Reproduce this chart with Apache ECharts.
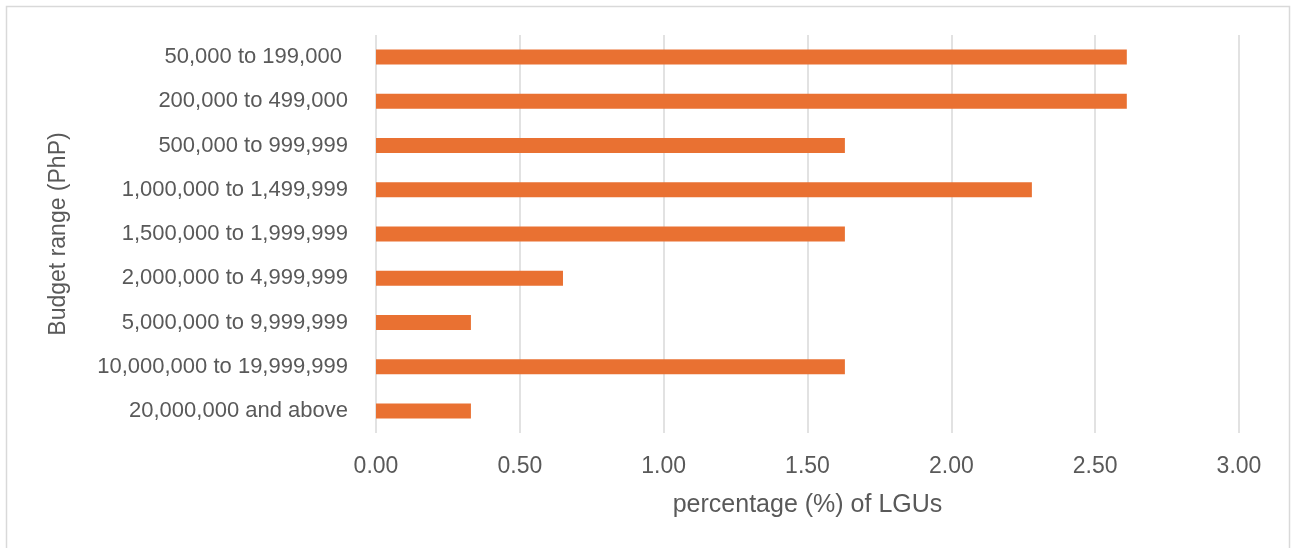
<!DOCTYPE html>
<html>
<head>
<meta charset="utf-8">
<script src="https://cdn.jsdelivr.net/npm/echarts@6/dist/echarts.min.js"></script>
<style>
html,body{margin:0;padding:0;background:#fff;}
#chart{width:1292px;height:548px;}
</style>
</head>
<body>
<div id="chart"></div>
<script>
const categories = [
  "50,000 to 199,000 ",
  "200,000 to 499,000",
  "500,000 to 999,999",
  "1,000,000 to 1,499,999",
  "1,500,000 to 1,999,999",
  "2,000,000 to 4,999,999",
  "5,000,000 to 9,999,999",
  "10,000,000 to 19,999,999",
  "20,000,000 and above"
];
const percentages = [2.61, 2.61, 1.63, 2.28, 1.63, 0.65, 0.33, 1.63, 0.33];
const xAxisTitle = "percentage (%) of LGUs";
const yAxisTitle = "Budget range (PhP)";

const FONT = "'Liberation Sans', Arial, sans-serif";
const TXT = "#595959";

const chart = echarts.init(document.getElementById('chart'));
chart.setOption({
  animation: false,
  backgroundColor: '#fff',
  graphic: [{
    type: 'rect',
    shape: {x: 6.5, y: 6.5, width: 1283, height: 600},
    style: {fill: 'none', stroke: '#D9D9D9', lineWidth: 1.5},
    silent: true
  }],
  grid: {left: 376, right: 53, top: 35, bottom: 115, containLabel: false},
  xAxis: {
    type: 'value',
    min: 0, max: 3, interval: 0.5,
    name: xAxisTitle,
    nameLocation: 'middle',
    nameGap: 60,
    nameTextStyle: {color: TXT, fontSize: 25, fontFamily: FONT},
    axisLine: {show: false},
    axisTick: {show: false},
    axisLabel: {color: TXT, fontSize: 23, fontFamily: FONT, margin: 22,
      formatter: v => v.toFixed(2)},
    splitLine: {show: true, lineStyle: {color: '#D9D9D9', width: 1.5}}
  },
  yAxis: {
    type: 'category',
    data: categories,
    inverse: true,
    name: yAxisTitle,
    nameLocation: 'middle',
    nameGap: 306,
    nameRotate: 90,
    nameTextStyle: {color: TXT, fontSize: 23, fontFamily: FONT},
    axisLine: {show: false},
    axisTick: {show: false},
    axisLabel: {color: TXT, fontSize: 22, fontFamily: FONT, margin: 28}
  },
  series: [{
    type: 'bar',
    data: percentages,
    barWidth: 15,
    itemStyle: {color: '#E97132'}
  }]
});
</script>
</body>
</html>
